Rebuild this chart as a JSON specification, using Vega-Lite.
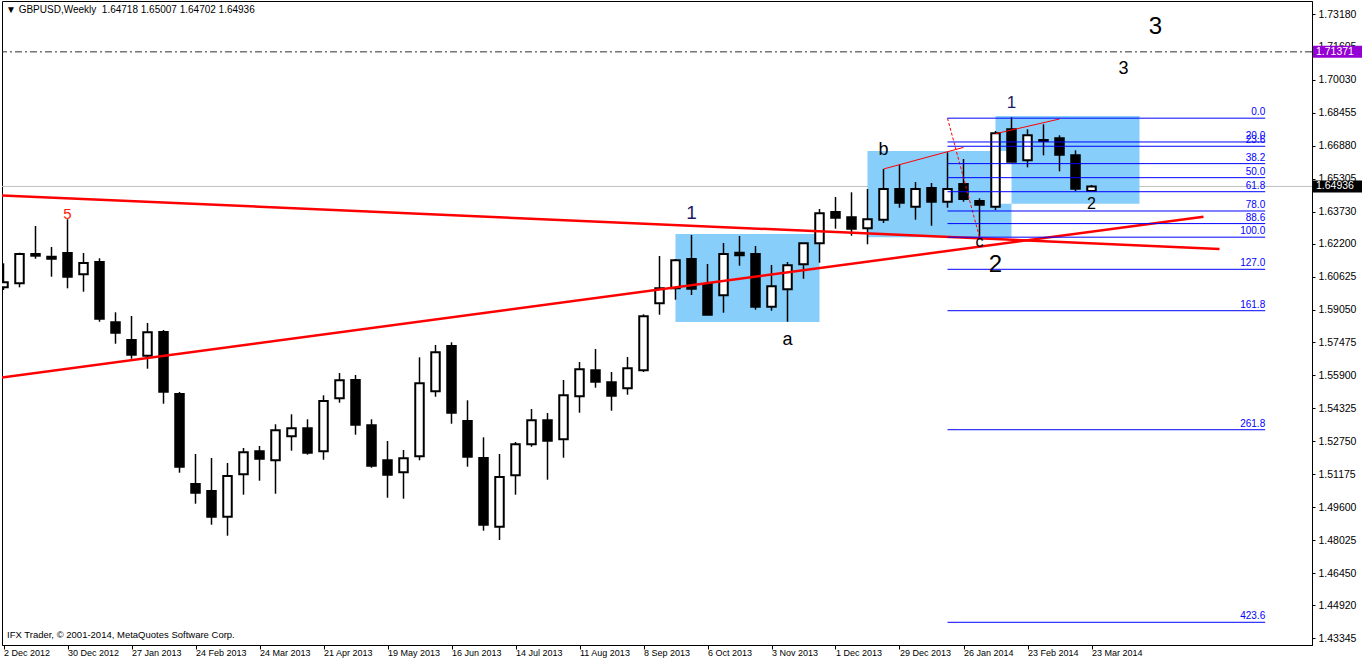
{
"$schema": "https://vega.github.io/schema/vega-lite/v6.json",
"width": 1310, "height": 644,
"autosize": "none",
"padding": {"left": 2, "top": 1, "right": 50, "bottom": 16},
"background": "white",
"config": {"view": {"stroke": "black", "strokeWidth": 1}, "font": "Liberation Sans", "text": {"font": "Liberation Sans"}},
"datasets": {
"candles": [
{"d":"2012-12-02","o":1.60113,"h":1.61260,"l":1.59984,"c":1.60352},
{"d":"2012-12-09","o":1.60304,"h":1.61767,"l":1.60113,"c":1.61705},
{"d":"2012-12-16","o":1.61705,"h":1.63044,"l":1.61480,"c":1.61624},
{"d":"2012-12-23","o":1.61576,"h":1.62040,"l":1.60620,"c":1.61480},
{"d":"2012-12-30","o":1.61753,"h":1.63364,"l":1.60065,"c":1.60620},
{"d":"2013-01-06","o":1.60734,"h":1.61753,"l":1.59903,"c":1.61275},
{"d":"2013-01-13","o":1.61323,"h":1.61500,"l":1.58468,"c":1.58612},
{"d":"2013-01-20","o":1.58440,"h":1.58918,"l":1.57416,"c":1.57942},
{"d":"2013-01-27","o":1.57593,"h":1.58741,"l":1.56699,"c":1.56891},
{"d":"2013-02-03","o":1.56843,"h":1.58406,"l":1.56221,"c":1.57961},
{"d":"2013-02-10","o":1.57976,"h":1.58071,"l":1.54548,"c":1.55121},
{"d":"2013-02-17","o":1.55011,"h":1.55107,"l":1.51249,"c":1.51536},
{"d":"2013-02-24","o":1.50708,"h":1.52143,"l":1.49767,"c":1.50292},
{"d":"2013-03-03","o":1.50374,"h":1.51951,"l":1.48762,"c":1.49145},
{"d":"2013-03-10","o":1.49145,"h":1.51712,"l":1.48237,"c":1.51091},
{"d":"2013-03-17","o":1.51172,"h":1.52430,"l":1.50197,"c":1.52224},
{"d":"2013-03-24","o":1.52272,"h":1.52525,"l":1.50866,"c":1.51918},
{"d":"2013-03-31","o":1.51842,"h":1.53563,"l":1.50245,"c":1.53276},
{"d":"2013-04-07","o":1.52989,"h":1.54041,"l":1.52301,"c":1.53372},
{"d":"2013-04-14","o":1.53372,"h":1.53802,"l":1.52110,"c":1.52205},
{"d":"2013-04-21","o":1.52272,"h":1.54949,"l":1.51870,"c":1.54677},
{"d":"2013-04-28","o":1.54806,"h":1.56016,"l":1.54596,"c":1.55667},
{"d":"2013-05-05","o":1.55681,"h":1.55920,"l":1.53066,"c":1.53544},
{"d":"2013-05-12","o":1.53515,"h":1.53802,"l":1.51488,"c":1.51583},
{"d":"2013-05-19","o":1.51842,"h":1.52764,"l":1.50053,"c":1.51153},
{"d":"2013-05-26","o":1.51268,"h":1.52334,"l":1.50006,"c":1.51937},
{"d":"2013-06-02","o":1.52033,"h":1.56766,"l":1.51842,"c":1.55523},
{"d":"2013-06-09","o":1.55141,"h":1.57354,"l":1.54882,"c":1.57005},
{"d":"2013-06-16","o":1.57306,"h":1.57483,"l":1.53591,"c":1.54117},
{"d":"2013-06-23","o":1.53721,"h":1.54710,"l":1.51536,"c":1.52014},
{"d":"2013-06-30","o":1.51951,"h":1.52941,"l":1.48476,"c":1.48762},
{"d":"2013-07-07","o":1.48667,"h":1.52143,"l":1.48031,"c":1.51043},
{"d":"2013-07-14","o":1.51124,"h":1.52717,"l":1.50197,"c":1.52607},
{"d":"2013-07-21","o":1.52607,"h":1.54294,"l":1.52492,"c":1.53754},
{"d":"2013-07-28","o":1.53754,"h":1.54103,"l":1.50914,"c":1.52779},
{"d":"2013-08-04","o":1.52846,"h":1.55681,"l":1.51966,"c":1.54949},
{"d":"2013-08-11","o":1.54901,"h":1.56541,"l":1.54117,"c":1.56192},
{"d":"2013-08-18","o":1.56145,"h":1.57163,"l":1.55313,"c":1.55600},
{"d":"2013-08-25","o":1.55571,"h":1.56063,"l":1.54213,"c":1.54930},
{"d":"2013-09-01","o":1.55284,"h":1.56780,"l":1.54978,"c":1.56240},
{"d":"2013-09-08","o":1.56145,"h":1.58822,"l":1.56063,"c":1.58726},
{"d":"2013-09-15","o":1.59348,"h":1.61610,"l":1.58803,"c":1.60065},
{"d":"2013-09-22","o":1.60065,"h":1.61466,"l":1.59520,"c":1.61404},
{"d":"2013-09-29","o":1.61466,"h":1.62614,"l":1.59745,"c":1.60046},
{"d":"2013-10-06","o":1.60271,"h":1.61227,"l":1.59090,"c":1.58803},
{"d":"2013-10-13","o":1.59731,"h":1.62231,"l":1.58899,"c":1.61705},
{"d":"2013-10-20","o":1.61767,"h":1.62566,"l":1.61146,"c":1.61643},
{"d":"2013-10-27","o":1.61705,"h":1.62088,"l":1.59042,"c":1.59185},
{"d":"2013-11-03","o":1.59185,"h":1.61179,"l":1.58994,"c":1.60161},
{"d":"2013-11-10","o":1.60017,"h":1.61323,"l":1.58468,"c":1.61165},
{"d":"2013-11-17","o":1.61213,"h":1.62231,"l":1.60524,"c":1.62217},
{"d":"2013-11-24","o":1.62217,"h":1.63857,"l":1.61289,"c":1.63651},
{"d":"2013-12-01","o":1.63713,"h":1.64430,"l":1.62915,"c":1.63441},
{"d":"2013-12-08","o":1.63460,"h":1.64655,"l":1.62580,"c":1.62915},
{"d":"2013-12-15","o":1.62934,"h":1.64813,"l":1.62169,"c":1.63364},
{"d":"2013-12-22","o":1.63345,"h":1.65769,"l":1.63187,"c":1.64813},
{"d":"2013-12-29","o":1.64813,"h":1.65975,"l":1.63919,"c":1.64158},
{"d":"2014-01-05","o":1.63967,"h":1.65148,"l":1.63345,"c":1.64813},
{"d":"2014-01-12","o":1.64861,"h":1.65100,"l":1.63058,"c":1.64206},
{"d":"2014-01-19","o":1.64206,"h":1.66568,"l":1.63919,"c":1.64813},
{"d":"2014-01-26","o":1.65052,"h":1.66247,"l":1.64206,"c":1.64335},
{"d":"2014-02-02","o":1.64239,"h":1.64368,"l":1.62504,"c":1.64062},
{"d":"2014-02-09","o":1.63967,"h":1.67586,"l":1.63809,"c":1.67476},
{"d":"2014-02-16","o":1.67667,"h":1.68241,"l":1.66100,"c":1.66118},
{"d":"2014-02-23","o":1.66185,"h":1.67667,"l":1.65850,"c":1.67380},
{"d":"2014-03-02","o":1.67156,"h":1.67906,"l":1.66424,"c":1.67108},
{"d":"2014-03-09","o":1.67237,"h":1.67380,"l":1.65659,"c":1.66453},
{"d":"2014-03-16","o":1.66424,"h":1.66663,"l":1.64717,"c":1.64827},
{"d":"2014-03-23","o":1.64718,"h":1.65007,"l":1.64702,"c":1.64936}
]
},
"layer": [
{"data":{"values":[{"p":1.64936}]},
 "mark":{"type":"rule","color":"#C0C0C0","strokeWidth":1},
 "encoding":{"y":{"field":"p","type":"quantitative","scale":{"domain":[1.43011,1.73802],"nice":false,"zero":false,"padding":0},
   "axis":{"orient":"right","title":null,"grid":false,"tickCount":40,"values":[1.7318,1.71605,1.7003,1.68455,1.6688,1.65305,1.6373,1.622,1.60625,1.5905,1.57475,1.559,1.54325,1.5275,1.51175,1.496,1.48025,1.4645,1.4492,1.43345],
   "labelExpr":"format(datum.value, '.5f')","tickSize":3,"tickColor":"black","domainColor":"black","labelPadding":3,"labelFont":"Liberation Sans","labelFontSize":10.5,"labelColor":"black","labelFlush":false,"labelOverlap":false}}}},
{"data":{"values":[{"p":1.71371}]},
 "mark":{"type":"rule","color":"#303030","strokeWidth":1,"strokeDash":[7,3,2,3]},
 "encoding":{"y":{"field":"p","type":"quantitative"}}},
{"data":{"values":[
 {"d":"2013-09-22","d2":"2013-11-24","p":1.62661,"p2":1.58454},
 {"d":"2013-12-15","d2":"2014-02-16","p":1.66630,"p2":1.62504},
 {"d":"2014-02-09","d2":"2014-04-13","p":1.68303,"p2":1.64110}]},
 "mark":{"type":"rect","color":"#87CEFA"},
 "encoding":{
  "x":{"field":"d","type":"temporal","scale":{"type":"utc","domain":[{"year":2012,"month":12,"date":1,"hours":8,"minutes":15,"utc":true},{"year":2014,"month":6,"date":27,"hours":11,"minutes":15,"utc":true}],"nice":false,"padding":0},
   "axis":{"title":null,"grid":false,"tickCount":40,"values":[
    {"year":2012,"month":12,"date":2,"utc":true},{"year":2012,"month":12,"date":30,"utc":true},{"year":2013,"month":1,"date":27,"utc":true},{"year":2013,"month":2,"date":24,"utc":true},
    {"year":2013,"month":3,"date":24,"utc":true},{"year":2013,"month":4,"date":21,"utc":true},{"year":2013,"month":5,"date":19,"utc":true},{"year":2013,"month":6,"date":16,"utc":true},
    {"year":2013,"month":7,"date":14,"utc":true},{"year":2013,"month":8,"date":11,"utc":true},{"year":2013,"month":9,"date":8,"utc":true},{"year":2013,"month":10,"date":6,"utc":true},
    {"year":2013,"month":11,"date":3,"utc":true},{"year":2013,"month":12,"date":1,"utc":true},{"year":2013,"month":12,"date":29,"utc":true},{"year":2014,"month":1,"date":26,"utc":true},
    {"year":2014,"month":2,"date":23,"utc":true},{"year":2014,"month":3,"date":23,"utc":true}],
    "labelExpr":"utcFormat(datum.value, '%-d %b %Y')","labelAlign":"left","labelOffset":0,"labelBaseline":"top","labelPadding":-1,"tickSize":4,"tickColor":"black","domainColor":"black",
    "labelFont":"Liberation Sans","labelFontSize":9,"labelColor":"black","labelFlush":false,"labelOverlap":false}},
  "x2":{"field":"d2"},
  "y":{"field":"p","type":"quantitative"},
  "y2":{"field":"p2"}}},
{"data":{"values":[{"d":"2014-02-09","d2":"2014-02-16","p":1.66630,"p2":1.64110}]},
 "mark":{"type":"rect","color":"white"},
 "encoding":{"x":{"field":"d","type":"temporal"},"x2":{"field":"d2"},
  "y":{"field":"p","type":"quantitative"},"y2":{"field":"p2"}}},
{"data":{"name":"candles"},
 "mark":{"type":"rule","color":"black","strokeWidth":1.5,"clip":true},
 "encoding":{"x":{"field":"d","type":"temporal"},"y":{"field":"l","type":"quantitative"},"y2":{"field":"h"}}},
{"data":{"name":"candles"},
 "mark":{"type":"bar","size":8.5,"stroke":"black","strokeWidth":2,"clip":true},
 "encoding":{"x":{"field":"d","type":"temporal"},"y":{"field":"o","type":"quantitative"},"y2":{"field":"c"},
  "fill":{"condition":{"test":"datum.c >= datum.o","value":"white"},"value":"black"}}},
{"data":{"values":[
 {"line":"upper","d":"2012-11-25","p":1.64538},{"line":"upper","d":"2014-05-18","p":1.61946},
 {"line":"lower","d":"2012-11-25","p":1.55710},{"line":"lower","d":"2014-05-11","p":1.63489}]},
 "mark":{"type":"line","color":"#FF0000","strokeWidth":2.5,"clip":true},
 "encoding":{"x":{"field":"d","type":"temporal"},"y":{"field":"p","type":"quantitative"},"detail":{"field":"line"}}},
{"data":{"values":[
 {"line":"s1","d":"2013-12-22","p":1.65769},{"line":"s1","d":"2014-01-26","p":1.66802},
 {"line":"s2","d":"2014-02-09","p":1.67457},{"line":"s2","d":"2014-03-09","p":1.68160}]},
 "mark":{"type":"line","color":"#FF0000","strokeWidth":1},
 "encoding":{"x":{"field":"d","type":"temporal"},"y":{"field":"p","type":"quantitative"},"detail":{"field":"line"}}},
{"data":{"values":[{"d":"2014-01-19","p":1.6820},{"d":"2014-02-02","p":1.6251}]},
 "mark":{"type":"line","color":"#FF0000","strokeWidth":1,"strokeDash":[3,2]},
 "encoding":{"x":{"field":"d","type":"temporal"},"y":{"field":"p","type":"quantitative"}}},
{"data":{"values":[
 {"lvl":"0.0","p":1.68200},{"lvl":"20.0","p":1.67062},{"lvl":"23.6","p":1.66857},{"lvl":"38.2","p":1.66026},
 {"lvl":"50.0","p":1.65355},{"lvl":"61.8","p":1.64684},{"lvl":"78.0","p":1.63762},{"lvl":"88.6","p":1.63159},
 {"lvl":"100.0","p":1.62510},{"lvl":"127.0","p":1.60974},{"lvl":"161.8","p":1.58994},{"lvl":"261.8","p":1.53304},{"lvl":"423.6","p":1.44097}]},
 "layer":[
  {"mark":{"type":"rule","color":"#0000FF","strokeWidth":1},
   "encoding":{"x":{"datum":{"year":2014,"month":1,"date":19,"utc":true},"type":"temporal"},"x2":{"datum":{"year":2014,"month":6,"date":7,"utc":true}},"y":{"field":"p","type":"quantitative"}}},
  {"mark":{"type":"text","color":"#0000FF","fontSize":10,"align":"right","baseline":"bottom","dy":-1},
   "encoding":{"x":{"datum":{"year":2014,"month":6,"date":7,"utc":true},"type":"temporal"},"y":{"field":"p","type":"quantitative"},"text":{"field":"lvl"}}}
 ]},
{"data":{"values":[{"d":"2014-02-09","p":1.61179,"t":"2"},{"d":"2014-04-20","p":1.72558,"t":"3"}]},
 "mark":{"type":"text","fontSize":24,"color":"black","align":"center","baseline":"middle"},
 "encoding":{"x":{"field":"d","type":"temporal"},"y":{"field":"p","type":"quantitative"},"text":{"field":"t"}}},
{"data":{"values":[{"d":"2013-09-29","p":1.63665,"t":"1"}]},
 "mark":{"type":"text","fontSize":19,"color":"#1B1B60","align":"center","baseline":"middle"},
 "encoding":{"x":{"field":"d","type":"temporal"},"y":{"field":"p","type":"quantitative"},"text":{"field":"t"}}},
{"data":{"values":[{"d":"2013-11-10","p":1.57593,"t":"a"},{"d":"2013-12-22","p":1.66678,"t":"b"},{"d":"2014-04-06","p":1.70550,"t":"3"}]},
 "mark":{"type":"text","fontSize":18,"color":"black","align":"center","baseline":"middle"},
 "encoding":{"x":{"field":"d","type":"temporal"},"y":{"field":"p","type":"quantitative"},"text":{"field":"t"}}},
{"data":{"values":[{"d":"2014-02-16","p":1.68925,"t":"1"}]},
 "mark":{"type":"text","fontSize":17,"color":"#1B1B60","align":"center","baseline":"middle"},
 "encoding":{"x":{"field":"d","type":"temporal"},"y":{"field":"p","type":"quantitative"},"text":{"field":"t"}}},
{"data":{"values":[{"d":"2014-03-23","p":1.64096,"t":"2"},{"d":"2014-02-02","p":1.62292,"t":"c"}]},
 "mark":{"type":"text","fontSize":16,"color":"black","align":"center","baseline":"middle"},
 "encoding":{"x":{"field":"d","type":"temporal"},"y":{"field":"p","type":"quantitative"},"text":{"field":"t"}}},
{"data":{"values":[{"d":"2012-12-30","p":1.63627,"t":"5"}]},
 "mark":{"type":"text","fontSize":15,"color":"#FF2000","align":"center","baseline":"middle"},
 "encoding":{"x":{"field":"d","type":"temporal"},"y":{"field":"p","type":"quantitative"},"text":{"field":"t"}}},
{"data":{"values":[{"d":"2012-12-03T02:00:00Z","p":1.73371,"t":"▼ GBPUSD,Weekly\u00a0 1.64718 1.65007 1.64702 1.64936"}]},
 "mark":{"type":"text","fontSize":10,"color":"black","align":"left","baseline":"middle"},
 "encoding":{"x":{"field":"d","type":"temporal"},"y":{"field":"p","type":"quantitative"},"text":{"field":"t"}}},
{"data":{"values":[{"d":"2012-12-03T13:00:00Z","p":1.43489,"t":"IFX Trader, © 2001-2014, MetaQuotes Software Corp."}]},
 "mark":{"type":"text","fontSize":9.5,"color":"black","align":"left","baseline":"middle"},
 "encoding":{"x":{"field":"d","type":"temporal"},"y":{"field":"p","type":"quantitative"},"text":{"field":"t"}}},
{"data":{"values":[{"p":1.71371,"t":"1.71371"}]},
 "layer":[
  {"mark":{"type":"bar","color":"#9400D3","size":12,"orient":"horizontal"},
   "encoding":{"x":{"datum":{"year":2014,"month":6,"date":27,"hours":22,"utc":true},"type":"temporal"},"x2":{"datum":{"year":2014,"month":7,"date":19,"hours":21,"utc":true}},"y":{"field":"p","type":"quantitative"}}},
  {"mark":{"type":"text","color":"white","fontSize":10.5,"align":"left","baseline":"middle"},
   "encoding":{"x":{"datum":{"year":2014,"month":6,"date":29,"hours":5,"utc":true},"type":"temporal"},"y":{"field":"p","type":"quantitative"},"text":{"field":"t"}}}
 ]},
{"data":{"values":[{"p":1.64936,"t":"1.64936"}]},
 "layer":[
  {"mark":{"type":"bar","color":"black","size":12,"orient":"horizontal"},
   "encoding":{"x":{"datum":{"year":2014,"month":6,"date":27,"hours":22,"utc":true},"type":"temporal"},"x2":{"datum":{"year":2014,"month":7,"date":19,"hours":21,"utc":true}},"y":{"field":"p","type":"quantitative"}}},
  {"mark":{"type":"text","color":"white","fontSize":10.5,"align":"left","baseline":"middle"},
   "encoding":{"x":{"datum":{"year":2014,"month":6,"date":29,"hours":5,"utc":true},"type":"temporal"},"y":{"field":"p","type":"quantitative"},"text":{"field":"t"}}}
 ]}
]
}
